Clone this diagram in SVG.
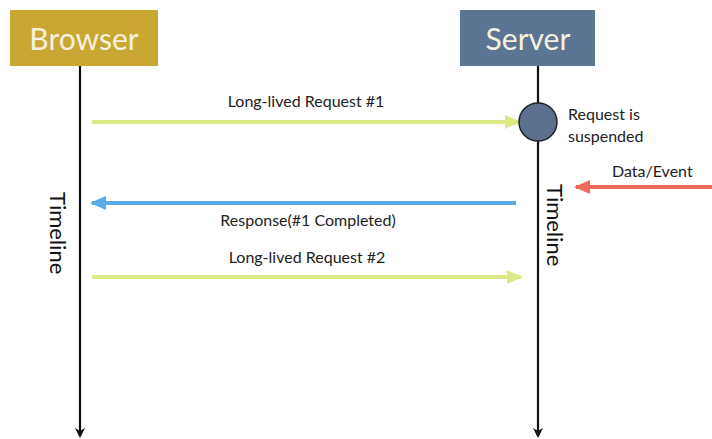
<svg xmlns="http://www.w3.org/2000/svg" width="712" height="439" viewBox="0 0 712 439">
<style>
.hdr{font-family:Lato,"Open Sans",sans-serif;font-size:30px;fill:#f6f1de;text-anchor:middle}
.lbl{font-family:Lato,"Liberation Sans",sans-serif;font-size:16px;fill:#222}
.tl{font-family:Lato,"Liberation Sans",sans-serif;font-size:22px;fill:#111}
.life{stroke:#111;stroke-width:2.2;fill:none}
</style>
<defs>
<marker id="ak" markerWidth="10" markerHeight="10" refX="8" refY="5" orient="auto" markerUnits="userSpaceOnUse"><path d="M0,0 L10,5 L0,10 L3,5 Z" fill="#111"/></marker>
<marker id="ay" markerWidth="16" markerHeight="14" refX="14" refY="7" orient="auto" markerUnits="userSpaceOnUse"><path d="M0,0 L16,7 L0,14 Z" fill="#dde985"/></marker>
<marker id="ab" markerWidth="16" markerHeight="14" refX="14" refY="7" orient="auto" markerUnits="userSpaceOnUse"><path d="M0,0 L16,7 L0,14 Z" fill="#5aaae6"/></marker>
<marker id="ar" markerWidth="16" markerHeight="14" refX="14" refY="7" orient="auto" markerUnits="userSpaceOnUse"><path d="M0,0 L16,7 L0,14 Z" fill="#ee6a5a"/></marker>
</defs>
<g id="browser">
<rect x="10" y="10" width="148" height="56" fill="#c9a732"/>
<text class="hdr" x="84" y="50">Browser</text>
</g>
<g id="server">
<rect x="460" y="10" width="135" height="56" fill="#5b7593"/>
<text class="hdr" x="528" y="50">Server</text>
</g>
<g id="connectors">
<line class="life" x1="80" y1="66" x2="80" y2="436" marker-end="url(#ak)"/>
<line class="life" x1="538" y1="66" x2="538" y2="436" marker-end="url(#ak)"/>
<line x1="92" y1="122" x2="519" y2="122" stroke="#dde985" stroke-width="4" marker-end="url(#ay)"/>
<line x1="516" y1="203" x2="92" y2="203" stroke="#5aaae6" stroke-width="4" marker-end="url(#ab)"/>
<line x1="92" y1="277" x2="521" y2="277" stroke="#dde985" stroke-width="4" marker-end="url(#ay)"/>
<line x1="712" y1="187" x2="576" y2="187" stroke="#ee6a5a" stroke-width="4" marker-end="url(#ar)"/>
</g>
<g id="suspend">
<circle cx="538" cy="122" r="19" fill="#5c6f8c" stroke="#222" stroke-width="1.5"/>
<text class="lbl" x="568" y="120">Request is</text>
<text class="lbl" x="568" y="142">suspended</text>
</g>
<g id="labels">
<text class="lbl" x="306" y="107" text-anchor="middle">Long-lived Request #1</text>
<text class="lbl" x="308" y="226" text-anchor="middle">Response(#1 Completed)</text>
<text class="lbl" x="307" y="263" text-anchor="middle">Long-lived Request #2</text>
<text class="lbl" x="612" y="177">Data/Event</text>
<text class="tl" transform="translate(50,192) rotate(90)">Timeline</text>
<text class="tl" transform="translate(547,184) rotate(90)">Timeline</text>
</g>
</svg>
